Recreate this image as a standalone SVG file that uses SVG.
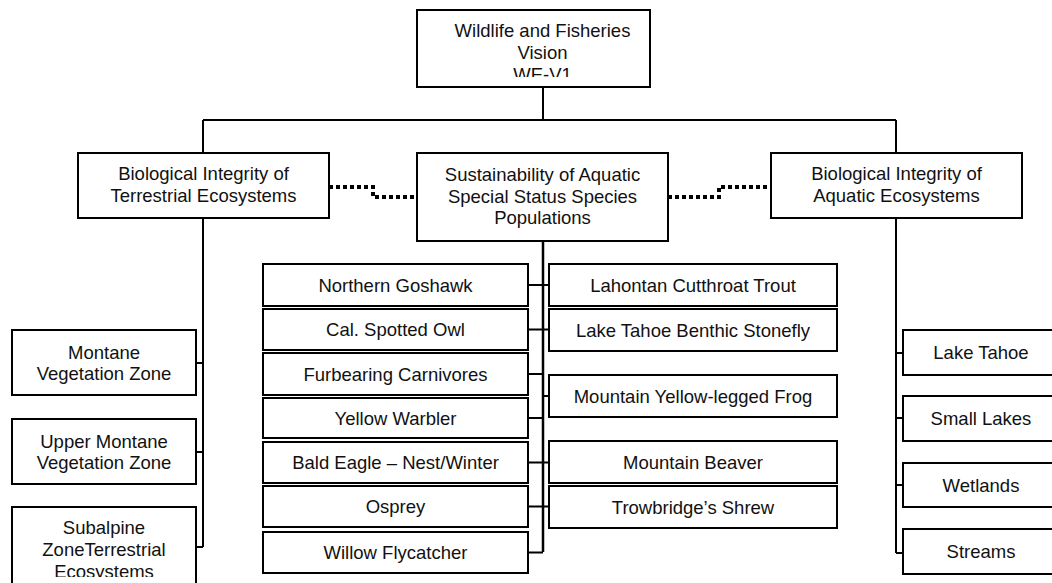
<svg xmlns="http://www.w3.org/2000/svg" width="1052" height="583" viewBox="0 0 1052 583">
<style>
  .box{fill:#fff;stroke:#000;stroke-width:2}
  text{font-family:"Liberation Sans",Arial,sans-serif;font-size:18.5px;fill:#111;text-anchor:middle}
  .ln{fill:none;stroke:#000;stroke-width:2}
  .main{fill:none;stroke:#000;stroke-width:2.5}
  .dot{fill:none;stroke:#000;stroke-width:4;stroke-dasharray:4 3}
</style>
<defs>
  <clipPath id="clipTop"><rect x="417" y="10" width="233" height="67"/></clipPath>
  <clipPath id="clipSub"><rect x="12" y="507" width="184" height="70"/></clipPath>
</defs>
<rect width="1052" height="583" fill="#fff"/>
<g id="connectors">
  <path class="ln" d="M543,87 V120 M203,120 H896 M203,120 V153 M896,120 V153"/>
  <path class="ln" d="M203,218 V547 M196,363 H203 M196,452 H203 M196,547 H203"/>
  <path class="main" d="M543,241 V552"/>
  <path class="ln" d="M528,285 H549 M528,329.5 H549 M528,374 H543 M528,418 H543 M528,462.5 H549 M528,506.5 H549 M528,552.5 H543 M543,396 H549"/>
  <path class="ln" d="M896,218 V553 M896,353 H903 M896,418 H903 M896,485 H903 M896,553 H903"/>
  <path class="dot" d="M329,187 H373 V197 H417"/>
  <path class="dot" d="M668,197 H719 V187 H771"/>
</g>
<g id="vision">
  <rect class="box" x="417" y="10" width="233" height="77"/>
  <g clip-path="url(#clipTop)">
    <text x="542.5" y="37">Wildlife and Fisheries</text>
    <text x="542.5" y="59">Vision</text>
    <text x="542.5" y="81">WE-V1</text>
  </g>
</g>
<g id="terrestrial">
  <rect class="box" x="78" y="153" width="251" height="65"/>
  <text x="203.5" y="180">Biological Integrity of</text>
  <text x="203.5" y="202">Terrestrial Ecosystems</text>
</g>
<g id="sustainability">
  <rect class="box" x="417" y="153" width="251" height="88"/>
  <text x="542.5" y="181">Sustainability of Aquatic</text>
  <text x="542.5" y="202.5">Special Status Species</text>
  <text x="542.5" y="224">Populations</text>
</g>
<g id="aquatic">
  <rect class="box" x="771" y="153" width="251" height="65"/>
  <text x="896.5" y="180">Biological Integrity of</text>
  <text x="896.5" y="202">Aquatic Ecosystems</text>
</g>
<g id="montane">
  <rect class="box" x="12" y="330" width="184" height="65"/>
  <text x="104" y="358.5">Montane</text>
  <text x="104" y="380">Vegetation Zone</text>
</g>
<g id="upper-montane">
  <rect class="box" x="12" y="419" width="184" height="65"/>
  <text x="104" y="447.5">Upper Montane</text>
  <text x="104" y="469">Vegetation Zone</text>
</g>
<g id="subalpine">
  <rect class="box" x="12" y="507" width="184" height="90"/>
  <g clip-path="url(#clipSub)">
    <text x="104" y="534">Subalpine</text>
    <text x="104" y="556">ZoneTerrestrial</text>
    <text x="104" y="578">Ecosystems</text>
  </g>
</g>
<g id="goshawk"><rect class="box" x="263" y="264" width="265" height="42"/><text x="395.5" y="291.5">Northern Goshawk</text></g>
<g id="owl"><rect class="box" x="263" y="309" width="265" height="41"/><text x="395.5" y="336">Cal. Spotted Owl</text></g>
<g id="furbearing"><rect class="box" x="263" y="353" width="265" height="42"/><text x="395.5" y="380.5">Furbearing Carnivores</text></g>
<g id="warbler"><rect class="box" x="263" y="398" width="265" height="40"/><text x="395.5" y="424.5">Yellow Warbler</text></g>
<g id="eagle"><rect class="box" x="263" y="442" width="265" height="41"/><text x="395.5" y="469">Bald Eagle – Nest/Winter</text></g>
<g id="osprey"><rect class="box" x="263" y="486" width="265" height="41"/><text x="395.5" y="513">Osprey</text></g>
<g id="flycatcher"><rect class="box" x="263" y="532" width="265" height="41"/><text x="395.5" y="559">Willow Flycatcher</text></g>
<g id="trout"><rect class="box" x="549" y="264" width="288" height="42"/><text x="693" y="291.5">Lahontan Cutthroat Trout</text></g>
<g id="stonefly"><rect class="box" x="549" y="309" width="288" height="42"/><text x="693" y="336.5">Lake Tahoe Benthic Stonefly</text></g>
<g id="frog"><rect class="box" x="549" y="375" width="288" height="42"/><text x="693" y="402.5">Mountain Yellow-legged Frog</text></g>
<g id="beaver"><rect class="box" x="549" y="441" width="288" height="42"/><text x="693" y="468.5">Mountain Beaver</text></g>
<g id="shrew"><rect class="box" x="549" y="486" width="288" height="42"/><text x="693" y="513.5">Trowbridge’s Shrew</text></g>
<g id="lake-tahoe"><rect class="box" x="903" y="330" width="156" height="45"/><text x="981" y="359">Lake Tahoe</text></g>
<g id="small-lakes"><rect class="box" x="903" y="396" width="156" height="45"/><text x="981" y="425">Small Lakes</text></g>
<g id="wetlands"><rect class="box" x="903" y="463" width="156" height="44"/><text x="981" y="491.5">Wetlands</text></g>
<g id="streams"><rect class="box" x="903" y="529" width="156" height="45"/><text x="981" y="558">Streams</text></g>
</svg>
